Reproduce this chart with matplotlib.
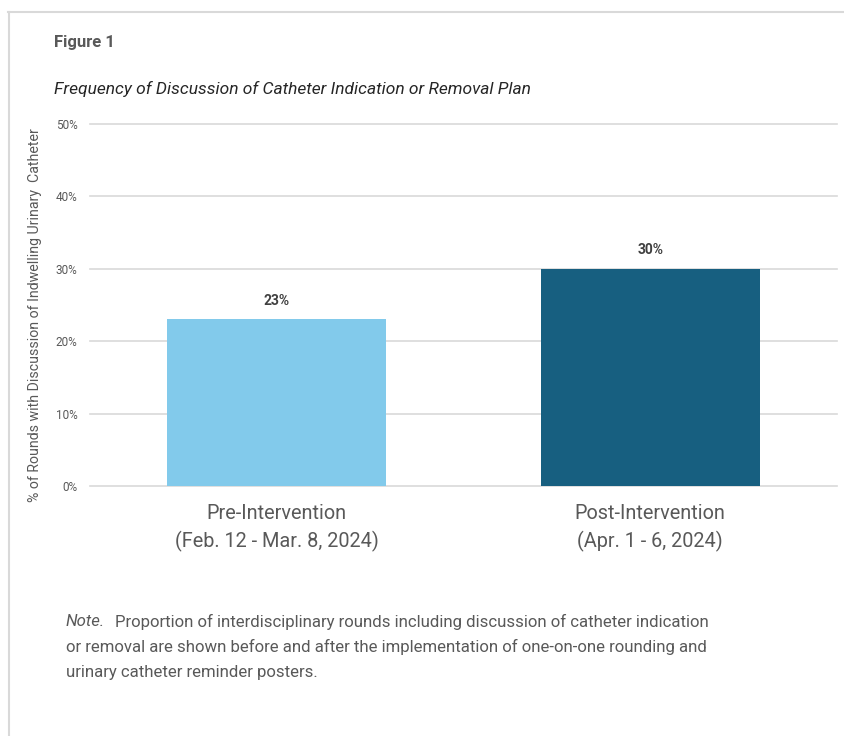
import matplotlib.pyplot as plt
from matplotlib.lines import Line2D
from matplotlib.ticker import PercentFormatter

# data
categories = ['Pre-Intervention\n(Feb. 12 - Mar. 8, 2024)',
              'Post-Intervention\n(Apr. 1 - 6, 2024)']
values = [0.23, 0.30]
bar_labels = ['23%', '30%']
colors = ['#82CAEB', '#175F80']

txt = '#595959'
plt.rcParams['font.family'] = ['Roboto', 'DejaVu Sans']

fig = plt.figure(figsize=(8.44, 7.36), dpi=100)
ax = fig.add_axes([0.1066, 0.3397, 0.885, 0.4918])

x = range(len(values))
ax.bar(x, values, width=0.586, color=colors, zorder=3)
for i, v in enumerate(values):
    ax.text(i, v + 0.0255, bar_labels[i], ha='center', va='center',
            fontsize=10, fontweight='bold', color='#404040')

ax.set_xlim(-0.5, 1.5)
ax.set_ylim(0, 0.5)
ax.set_yticks([0, 0.1, 0.2, 0.3, 0.4, 0.5])
ax.yaxis.set_major_formatter(PercentFormatter(1.0, decimals=0))
ax.grid(axis='y', color='#d9d9d9', lw=1.2, zorder=0)
for gl in ax.get_ygridlines():
    gl.set_clip_on(False)
ax.tick_params(axis='y', length=0, labelsize=8.5, labelcolor=txt, pad=9)
ax.set_xticks(list(x))
ax.set_xticklabels(categories, fontsize=14.3, color=txt, linespacing=1.48)
ax.tick_params(axis='x', length=0, pad=13)
for s in ax.spines.values():
    s.set_visible(False)
ax.set_ylabel('% of Rounds with Discussion of Indwelling Urinary  Catheter',
              fontsize=10.2, color=txt)
ax.yaxis.set_label_coords(-0.064, 0.472)

# headings and note
fig.text(54 / 844, 1 - 43 / 736, 'Figure 1', fontsize=12, fontweight='bold',
         color=txt, va='center')
fig.text(54 / 844, 1 - 89 / 736,
         'Frequency of Discussion of Catheter Indication or Removal Plan',
         fontsize=12.5, style='italic', color='#262626', va='center')
note_lines = ['Proportion of interdisciplinary rounds including discussion of catheter indication',
              'or removal are shown before and after the implementation of one-on-one rounding and',
              'urinary catheter reminder posters.']
fig.text(66 / 844, 1 - 622 / 736, 'Note.', fontsize=12.1, style='italic',
         color=txt, va='center')
fig.text(115 / 844, 1 - 622 / 736, note_lines[0], fontsize=12.1,
         color=txt, va='center')
fig.text(66 / 844, 1 - 647 / 736, note_lines[1], fontsize=12.1,
         color=txt, va='center')
fig.text(66 / 844, 1 - 672 / 736, note_lines[2], fontsize=12.1,
         color=txt, va='center')

# frame lines
fig.add_artist(Line2D([8 / 844, 1], [1 - 12 / 736] * 2, color='#d9d9d9', lw=1.5))
fig.add_artist(Line2D([9 / 844] * 2, [0, 1 - 12 / 736], color='#d9d9d9', lw=1.5))

fig.savefig('out.png', dpi=100)
